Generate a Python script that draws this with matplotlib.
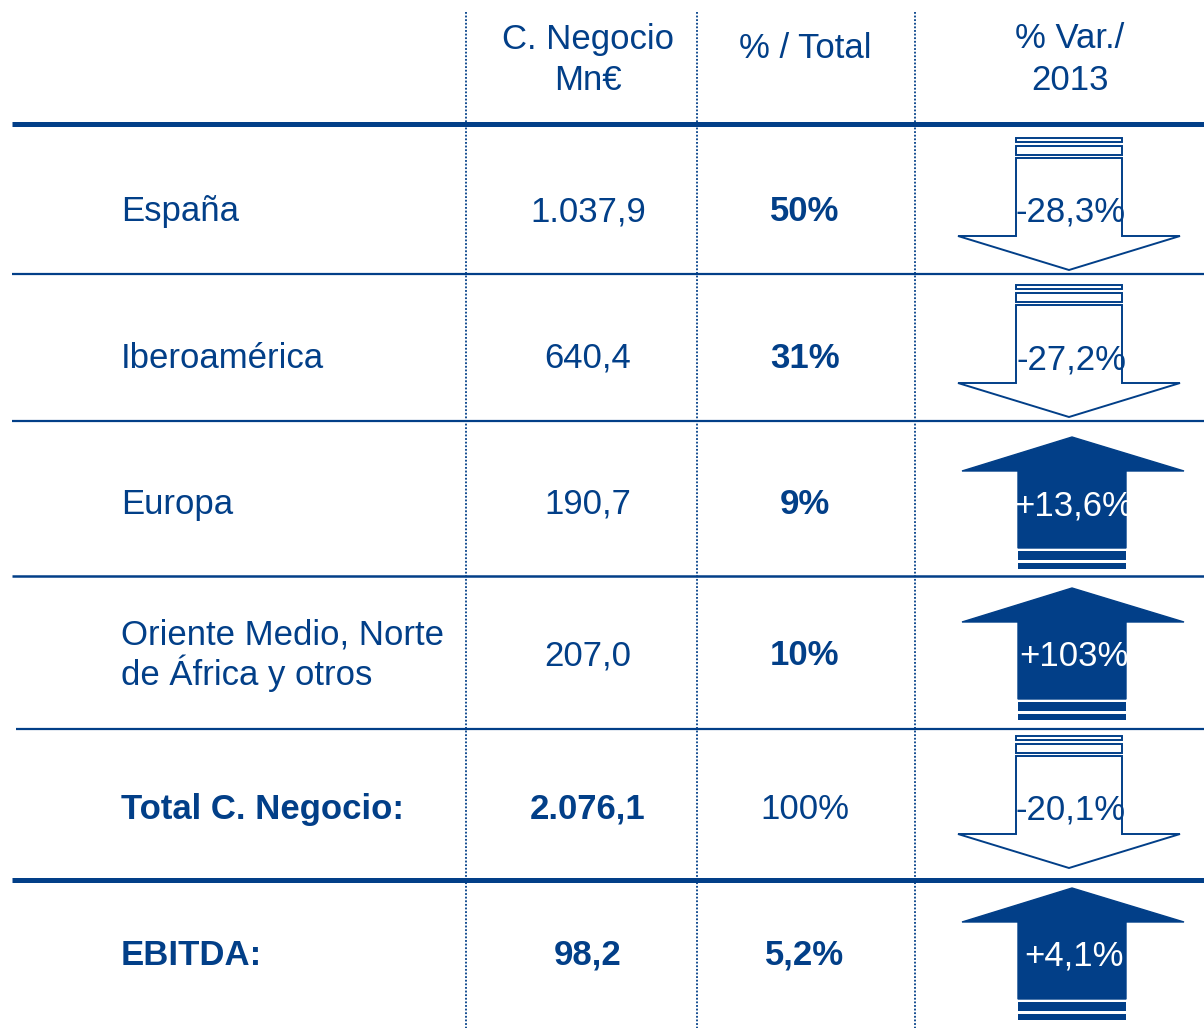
import matplotlib
matplotlib.use("Agg")
import matplotlib.pyplot as plt
from matplotlib.patches import Polygon, Rectangle

plt.rcParams['font.family'] = ['Liberation Sans', 'DejaVu Sans']

# datos de la tabla
headers = ["C. Negocio\nMn€", "% / Total", "% Var./\n2013"]
regions = ["España", "Iberoamérica", "Europa", "Oriente Medio, Norte\nde África y otros",
           "Total C. Negocio:", "EBITDA:"]
values = ["1.037,9", "640,4", "190,7", "207,0", "2.076,1", "98,2"]
shares = ["50%", "31%", "9%", "10%", "100%", "5,2%"]
variations = ["-28,3%", "-27,2%", "+13,6%", "+103%", "-20,1%", "+4,1%"]
label_bold = [False, False, False, False, True, True]
value_bold = [False, False, False, False, True, True]
share_bold = [True, True, True, True, False, True]

BLUE = '#023F88'
FS = 25
LINE_H = 41      # separacion entre lineas (px)
HALF_CAP = 13    # mitad de la altura de mayusculas (px)

# posiciones (pixeles)
row_y = [208, 355, 501, 652, 806, 952]
col_x = [588, 805, 1070]
header_y = [56, 45, 56]
vlines_x = [466, 697, 915]
hlines = [(124, 12, 3.6), (274, 12, 1.6), (421, 12, 1.6), (576, 12, 1.8),
          (729, 16, 1.6), (880, 12, 3.6)]

fig = plt.figure(figsize=(12.04, 10.28), dpi=100)
ax = fig.add_axes([0, 0, 1, 1])
ax.set_xlim(0, 1204)
ax.set_ylim(1028, 0)
ax.axis('off')


def put_text(ax, x, y, s, ha='center', color=BLUE, bold=False):
    # cada linea por separado, centradas verticalmente en y
    lines = s.split('\n')
    y0 = y - LINE_H * (len(lines) - 1) / 2
    for k, line in enumerate(lines):
        ax.text(x, y0 + k * LINE_H + HALF_CAP, line, ha=ha, va='baseline', fontsize=FS,
                color=color, fontweight='bold' if bold else 'normal')


for x in vlines_x:
    ax.plot([x, x], [12, 1028], color=BLUE, lw=1.3, ls=(0, (1, 1)))

for y, x0, lw in hlines:
    ax.plot([x0, 1204], [y, y], color=BLUE, lw=lw, solid_capstyle='butt')

# cabeceras
for x, y, h in zip(col_x, header_y, headers):
    put_text(ax, x, y, h)


def draw_arrow(ax, y, up, text):
    if up:
        cx = 1072
        body = (1018, 1126)
        head = (962, 1184)
        tip, shoulder, bottom = y - 64, y - 30, y + 47
        ax.add_patch(Polygon([(cx, tip), (head[1], shoulder), (body[1], shoulder),
                              (body[1], bottom), (body[0], bottom), (body[0], shoulder),
                              (head[0], shoulder)], closed=True, facecolor=BLUE,
                             edgecolor=BLUE, lw=1))
        for s0, s1 in [(bottom + 3, bottom + 12), (bottom + 15, bottom + 21)]:
            ax.add_patch(Rectangle((body[0], s0), body[1] - body[0], s1 - s0,
                                   facecolor=BLUE, edgecolor='none'))
        put_text(ax, cx + 2, y + 1, text, color='white')
    else:
        cx = 1069
        body = (1016, 1122)
        head = (958, 1180)
        top, shoulder, tip = y - 50, y + 28, y + 62
        ax.add_patch(Polygon([(body[0], top), (body[1], top), (body[1], shoulder),
                              (head[1], shoulder), (cx, tip), (head[0], shoulder),
                              (body[0], shoulder)], closed=True, facecolor='white',
                             edgecolor=BLUE, lw=1.4))
        for s0, s1 in [(y - 70, y - 66), (y - 62, y - 53)]:
            ax.add_patch(Rectangle((body[0], s0), body[1] - body[0], s1 - s0,
                                   facecolor='white', edgecolor=BLUE, lw=1.4))
        put_text(ax, cx + 2, y + 1, text)


for i, y in enumerate(row_y):
    put_text(ax, 121, y, regions[i], ha='left', bold=label_bold[i])
    put_text(ax, col_x[0], y, values[i], bold=value_bold[i])
    put_text(ax, col_x[1], y, shares[i], bold=share_bold[i])
    draw_arrow(ax, y, variations[i].startswith('+'), variations[i])

fig.savefig("out.png", dpi=100)
